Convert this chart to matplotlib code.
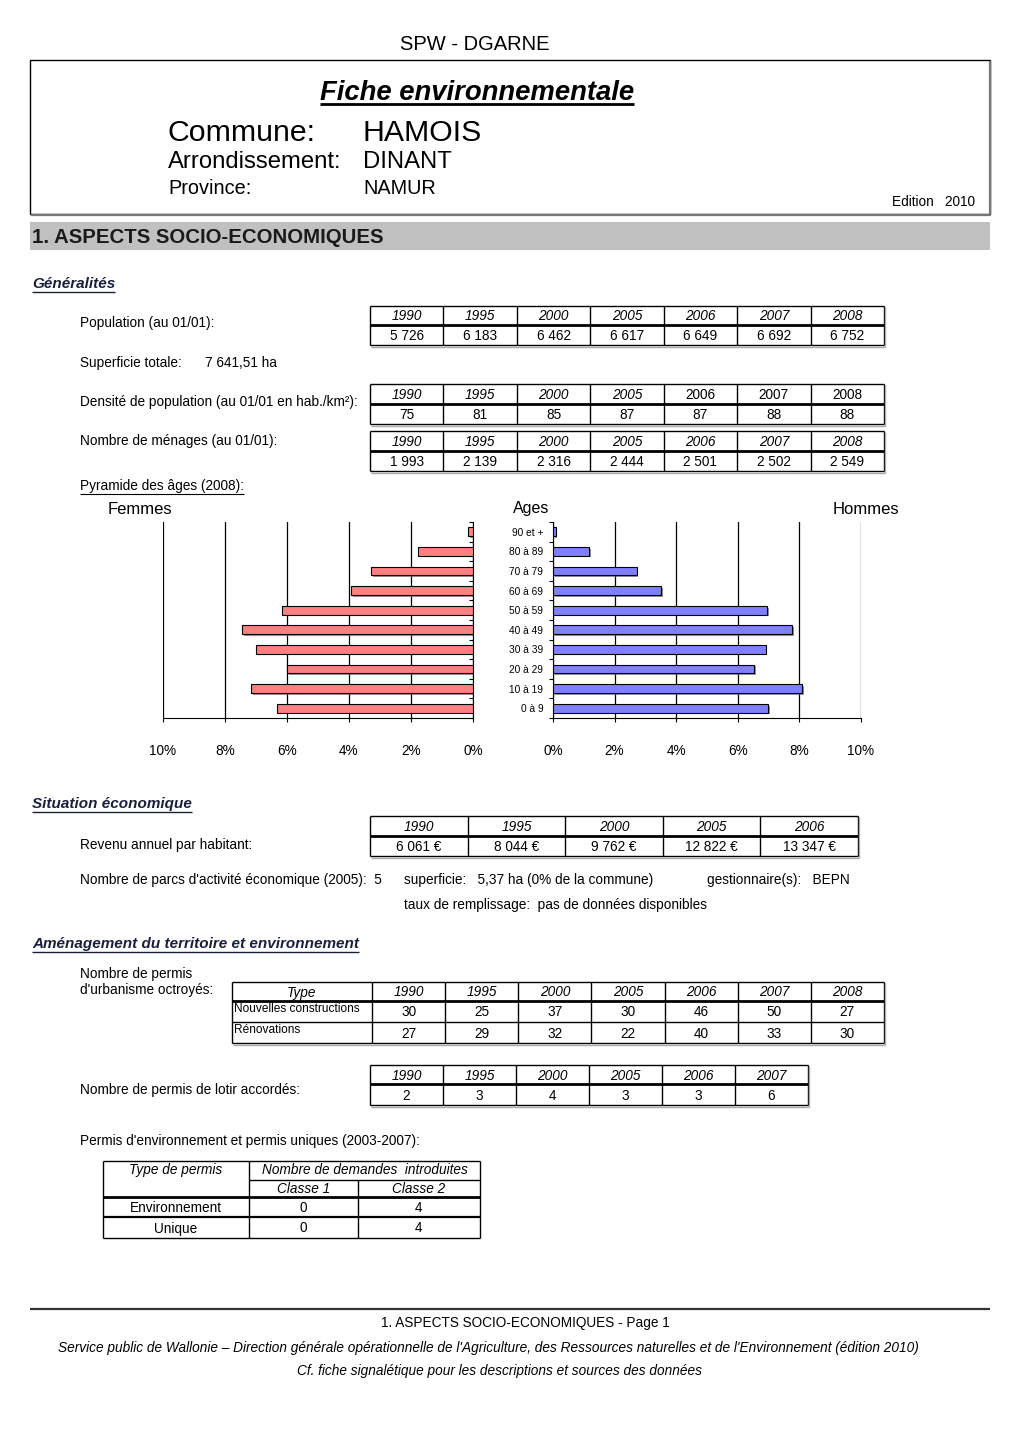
import matplotlib
matplotlib.use("Agg")
import matplotlib.pyplot as plt
import matplotlib.patheffects as pe
from matplotlib.patches import Rectangle
import numpy as np

plt.rcParams['font.family'] = ['Liberation Sans', 'DejaVu Sans']

# --- data -----------------------------------------------------------------
years_7 = [1990, 1995, 2000, 2005, 2006, 2007, 2008]
population = [5726, 6183, 6462, 6617, 6649, 6692, 6752]
densite = [75, 81, 85, 87, 87, 88, 88]
menages = [1993, 2139, 2316, 2444, 2501, 2502, 2549]
superficie = "7 641,51 ha"

age_groups = ['0 à 9', '10 à 19', '20 à 29', '30 à 39', '40 à 49',
              '50 à 59', '60 à 69', '70 à 79', '80 à 89', '90 et +']
femmes = [6.33, 7.15, 5.99, 7.00, 7.44, 6.16, 3.92, 3.29, 1.79, 0.16]
hommes = [6.99, 8.08, 6.53, 6.90, 7.76, 6.96, 3.52, 2.72, 1.17, 0.09]
pct_ticks = [0, 2, 4, 6, 8, 10]

years_rev = [1990, 1995, 2000, 2005, 2006]
revenu = [6061, 8044, 9762, 12822, 13347]

permis_types = ['Nouvelles constructions', 'Rénovations']
permis_new = [30, 25, 37, 30, 46, 50, 27]
permis_renov = [27, 29, 32, 22, 40, 33, 30]

years_lotir = [1990, 1995, 2000, 2005, 2006, 2007]
lotir = [2, 3, 4, 3, 3, 6]

env_types = ['Environnement', 'Unique']
env_classe1 = [0, 0]
env_classe2 = [4, 4]

W, H = 1020, 1441
FS = 9.8
HEAD = '#1a1f3a'


def fmt(v):
    return f"{v:,}".replace(",", " ")


fig = plt.figure(figsize=(W / 100, H / 100), dpi=100)
page = fig.add_axes([0, 0, 1, 1])
page.set_xlim(0, W)
page.set_ylim(H, 0)
page.axis('off')

to_underline = []


def txt(x, y, s, size=FS, **kw):
    kw.setdefault('va', 'center')
    return page.text(x, y, s, fontsize=size, **kw)


def hline(x0, x1, y, lw=1.0, color='black'):
    page.plot([x0, x1], [y, y], color=color, lw=lw, solid_capstyle='butt')


def vline(x, y0, y1, lw=1.0, color='black'):
    page.plot([x, x], [y0, y1], color=color, lw=lw, solid_capstyle='butt')


def year_table(x0, x1, y0, ym, y1, heads, values, italic_mask=None):
    n = len(heads)
    edges = np.linspace(x0, x1, n + 1)
    for xe in edges:
        vline(xe, y0, y1)
    hline(x0, x1, y0)
    hline(x0, x1, ym, lw=2.0)
    hline(x0, x1, y1)
    # light shadow on right/bottom
    vline(x1 + 1.5, y0 + 1, y1 + 1.5, lw=1.0, color='#aaaaaa')
    hline(x0 + 1, x1 + 1.5, y1 + 1.5, lw=1.0, color='#aaaaaa')
    for i in range(n):
        xc = (edges[i] + edges[i + 1]) / 2
        it = True if italic_mask is None else italic_mask[i]
        txt(xc, (y0 + ym) / 2 + 1, str(heads[i]), ha='center',
            style='italic' if it else 'normal')
        txt(xc, (ym + y1) / 2 + 1, values[i], ha='center')


def heading(x, y, s, size=11, **kw):
    t = page.text(x, y, s, fontsize=size, va='baseline', **kw)
    to_underline.append((t, 1.0))
    return t


# --- header ---------------------------------------------------------------
txt(475, 45, "SPW - DGARNE", size=14.5, ha='center')
page.add_patch(Rectangle((30, 60), 960, 154, fill=False, ec='black', lw=1.0))
vline(990.5, 61, 215, lw=1.6, color='#777777')
hline(31, 991, 214.5, lw=1.6, color='#777777')
t = page.text(477, 100, "Fiche environnementale", fontsize=19.8,
              fontweight='bold', style='italic', ha='center', va='baseline')
to_underline.append((t, 2.0))
page.text(168, 141, "Commune:", fontsize=21.8, va='baseline')
page.text(363, 141, "HAMOIS", fontsize=21.8, va='baseline')
page.text(168, 168, "Arrondissement:", fontsize=17.2, va='baseline')
page.text(363, 168, "DINANT", fontsize=17.2, va='baseline')
page.text(168, 194, "Province:", fontsize=14.3, va='baseline')
page.text(363, 194, "NAMUR", fontsize=14.3, va='baseline')
page.text(975, 206, "Edition   2010", fontsize=9.8, ha='right', va='baseline')

page.add_patch(Rectangle((30, 222), 960, 28, fc='#c0c0c0', ec='none'))
page.text(32, 243, "1. ASPECTS SOCIO-ECONOMIQUES", fontsize=14.7,
          fontweight='bold', color='#1a1a1a', va='baseline')

# --- Généralités ----------------------------------------------------------
heading(32, 288, "Généralités", fontweight='bold', style='italic', color=HEAD)

txt(80, 323, "Population (au 01/01):")
year_table(370, 884, 306, 325, 345, years_7, [fmt(v) for v in population])

txt(80, 363, "Superficie totale:")
txt(205, 363, superficie)

txt(80, 402, "Densité de population (au 01/01 en hab./km²):")
year_table(370, 884, 384, 404, 424, years_7, [str(v) for v in densite],
           italic_mask=[True, True, True, True, False, False, False])

txt(80, 441, "Nombre de ménages (au 01/01):")
year_table(370, 884, 431, 451, 471, years_7, [fmt(v) for v in menages])

t = page.text(80, 490, "Pyramide des âges (2008):", fontsize=FS, va='baseline')
to_underline.append((t, 0.8))

# --- pyramid --------------------------------------------------------------
pos = np.arange(len(age_groups))
shadow = [pe.SimplePatchShadow(offset=(1.2, -1.2), shadow_rgbFace='#666666',
                               alpha=0.7), pe.Normal()]
y_top, y_bot = 522, 718
axL = fig.add_axes([163 / W, 1 - y_bot / H, 310 / W, (y_bot - y_top) / H])
axR = fig.add_axes([553 / W, 1 - y_bot / H, 308 / W, (y_bot - y_top) / H])

axL.barh(pos, femmes, height=0.44, color='#ff8080', edgecolor='black',
         lw=0.8, path_effects=shadow, zorder=3)
axR.barh(pos, hommes, height=0.44, color='#8080ff', edgecolor='black',
         lw=0.8, path_effects=shadow, zorder=3)
axL.set_xlim(10, 0)
axR.set_xlim(0, 10)
for ax in (axL, axR):
    ax.set_ylim(-0.5, len(age_groups) - 0.5)
    ax.set_xticks(pct_ticks)
    ax.set_xticklabels([f"{v}%" for v in pct_ticks], fontsize=9.8)
    ax.tick_params(axis='x', length=3, width=0.8, pad=16)
    ax.grid(axis='x', color='black', lw=0.9)
    ax.set_axisbelow(True)
    ax.spines['top'].set_visible(False)
    ax.patch.set_alpha(0)
    ax.set_yticks(np.arange(-0.5, len(age_groups), 1.0), minor=True)

axL.spines['left'].set_visible(False)
axL.yaxis.tick_right()
axL.set_yticks([])
axL.tick_params(axis='y', which='minor', direction='in', length=3, width=0.8)

axR.spines['right'].set_visible(False)
axR.set_yticks(pos)
axR.set_yticklabels(age_groups, fontsize=7.3)
axR.tick_params(axis='y', which='major', length=0, pad=7)
axR.tick_params(axis='y', which='minor', direction='out', length=3, width=0.8)

txt(108, 510, "Femmes", size=12)
txt(513, 509, "Ages", size=11.5)
txt(833, 509, "Hommes", size=12)

# --- Situation économique -------------------------------------------------
heading(32, 808, "Situation économique", fontweight='bold', style='italic',
        color=HEAD)
year_table(370, 858, 816, 836, 856, years_rev, [f"{fmt(v)} €" for v in revenu])
txt(80, 845, "Revenu annuel par habitant:")

txt(80, 880, "Nombre de parcs d'activité économique (2005):  5")
txt(404, 880, "superficie:   5,37 ha (0% de la commune)")
txt(707, 880, "gestionnaire(s):   BEPN")
txt(404, 905, "taux de remplissage:  pas de données disponibles")

# --- Aménagement ----------------------------------------------------------
heading(32, 948, "Aménagement du territoire et environnement",
        fontweight='bold', style='italic', color=HEAD)
txt(80, 974, "Nombre de permis")
txt(80, 990, "d'urbanisme octroyés:")

px0, ptype, px1 = 232, 372, 884
prow = [982, 1001, 1022, 1043]
pedges = np.linspace(ptype, px1, len(years_7) + 1)
vline(px0, prow[0], prow[-1])
for xe in pedges:
    vline(xe, prow[0], prow[-1])
hline(px0, px1, prow[0])
hline(px0, px1, prow[1], lw=2.0)
hline(px0, px1, prow[2])
hline(px0, px1, prow[3])
vline(px1 + 1.5, prow[0] + 1, prow[-1] + 1.5, color='#aaaaaa')
hline(px0 + 1, px1 + 1.5, prow[-1] + 1.5, color='#aaaaaa')
txt((px0 + ptype) / 2, (prow[0] + prow[1]) / 2 + 1, "Type", ha='center',
    style='italic')
for i, yr in enumerate(years_7):
    xc = (pedges[i] + pedges[i + 1]) / 2
    txt(xc, (prow[0] + prow[1]) / 2 + 1, str(yr), ha='center', style='italic')
    txt(xc, (prow[1] + prow[2]) / 2 + 1, str(permis_new[i]), ha='center')
    txt(xc, (prow[2] + prow[3]) / 2 + 1, str(permis_renov[i]), ha='center')
for j, name in enumerate(permis_types):
    txt(px0 + 2, prow[j + 1] + 8, name, size=8.6)

txt(80, 1090, "Nombre de permis de lotir accordés:")
year_table(370, 808, 1065, 1084, 1105, years_lotir, [str(v) for v in lotir])

txt(80, 1141, "Permis d'environnement et permis uniques (2003-2007):")

ex = [103, 249, 358, 480]
ey = [1161, 1180, 1197, 1217, 1238]
for xe in ex:
    vline(xe, ey[0] if xe != ex[2] else ey[1], ey[-1])
hline(ex[0], ex[-1], ey[0])
hline(ex[1], ex[-1], ey[1])
hline(ex[0], ex[-1], ey[2], lw=2.0)
hline(ex[0], ex[-1], ey[3], lw=1.6)
hline(ex[0], ex[-1], ey[4])
txt((ex[0] + ex[1]) / 2, 1170, "Type de permis", ha='center', style='italic')
txt((ex[1] + ex[3]) / 2, 1170, "Nombre de demandes  introduites",
    ha='center', style='italic')
txt((ex[1] + ex[2]) / 2, 1189, "Classe 1", ha='center', style='italic')
txt((ex[2] + ex[3]) / 2, 1189, "Classe 2", ha='center', style='italic')
for j, name in enumerate(env_types):
    yc = (ey[j + 2] + ey[j + 3]) / 2 + 1
    txt((ex[0] + ex[1]) / 2, yc, name, ha='center')
    txt((ex[1] + ex[2]) / 2, yc, str(env_classe1[j]), ha='center')
    txt((ex[2] + ex[3]) / 2, yc, str(env_classe2[j]), ha='center')

# --- footer ---------------------------------------------------------------
hline(30, 990, 1309, lw=1.6, color='#333333')
txt(525, 1323, "1. ASPECTS SOCIO-ECONOMIQUES - Page 1", size=9.8, ha='center')
txt(488, 1348, "Service public de Wallonie – Direction générale opérationnelle "
    "de l'Agriculture, des Ressources naturelles et de l'Environnement "
    "(édition 2010)", size=9.8, ha='center', style='italic')
txt(500, 1371, "Cf. fiche signalétique pour les descriptions et sources des données",
    size=9.8, ha='center', style='italic')

# underline headings (needs a renderer to know text widths)
fig.canvas.draw()
renderer = fig.canvas.get_renderer()
inv = page.transData.inverted()
for t, lw in to_underline:
    bb = t.get_window_extent(renderer)
    (xa, _), (xb, _) = inv.transform([(bb.x0, bb.y0), (bb.x1, bb.y0)])
    x_t, y_t = t.get_position()
    hline(xa, xb, y_t + 3.5, lw=lw, color=t.get_color())

fig.savefig("out.png", dpi=100)
plt.close(fig)
